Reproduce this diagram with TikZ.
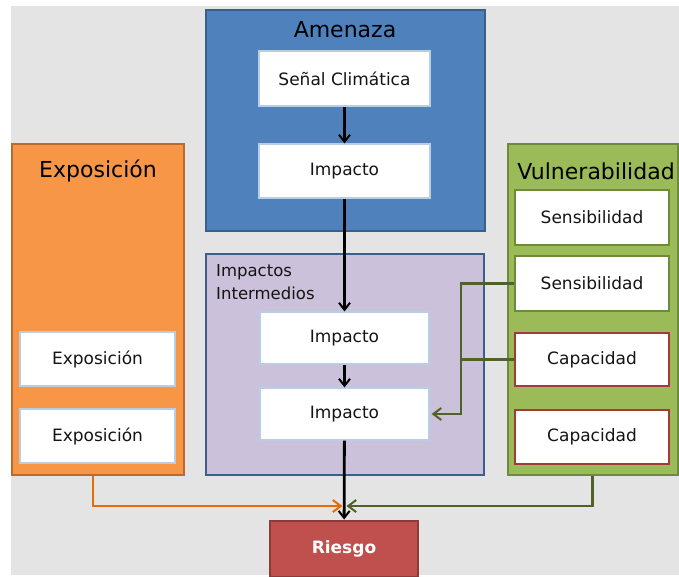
\documentclass[tikz,border=0pt]{standalone}
\usepackage{fontspec}
\setmainfont{DejaVu Sans}
\usetikzlibrary{arrows.meta}

\definecolor{bgGray}{HTML}{E4E4E4}
\definecolor{amBlue}{HTML}{4F81BD}
\definecolor{amBlueDk}{HTML}{3A5F8B}
\definecolor{exOrange}{HTML}{F79646}
\definecolor{exOrangeDk}{HTML}{B96A30}
\definecolor{vuGreen}{HTML}{9BBB59}
\definecolor{vuGreenDk}{HTML}{6E8A3C}
\definecolor{imLilac}{HTML}{CCC1DA}
\definecolor{riRed}{HTML}{C0504D}
\definecolor{riRedDk}{HTML}{8E3A38}
\definecolor{paleEdge}{HTML}{B9CDE5}
\definecolor{lineOrange}{HTML}{E46C0A}
\definecolor{lineGreen}{HTML}{4F6228}
\definecolor{capEdge}{HTML}{A33A37}

\tikzset{
  panel/.style={draw, line width=2pt, inner sep=0pt, anchor=center},
  card/.style={draw=paleEdge, fill=white, line width=1.2pt, inner sep=0pt,
    font=\fontsize{17}{20}\selectfont, text=black!92},
  senscard/.style={card, draw=vuGreenDk, line width=2pt},
  capcard/.style={card, draw=capEdge, line width=2pt},
  paneltitle/.style={font=\fontsize{22}{25}\selectfont, text=black},
  flow/.style={line width=2.8pt, -{Straight Barb[length=7pt,width=11pt,line width=2pt]}},
  feedO/.style={draw=lineOrange, line width=2.4pt, -{Straight Barb[length=8pt,width=12pt,line width=2pt]}},
  feedG/.style={draw=lineGreen, line width=2.4pt, -{Straight Barb[length=8pt,width=12pt,line width=2pt]}},
}

\begin{document}
\begin{tikzpicture}[x=1pt, y=-1pt]
  % page and grey backdrop
  \useasboundingbox (0,0) rectangle (679,577);
  \fill[white] (0,0) rectangle (679,577);
  \fill[bgGray] (11,6) rectangle (679,575);

  % coloured panels
  \node[panel, draw=amBlueDk, fill=amBlue, minimum width=279pt, minimum height=221pt] (amenaza) at (345.5,120.5) {};
  \node[panel, draw=exOrangeDk, fill=exOrange, minimum width=172pt, minimum height=331pt] (expo) at (98,309.5) {};
  \node[panel, draw=vuGreenDk, fill=vuGreen, minimum width=170pt, minimum height=331pt] (vuln) at (592.5,309.5) {};
  \node[panel, draw=amBlueDk, fill=imLilac, minimum width=278pt, minimum height=221pt] (inter) at (345,364.5) {};
  \node[panel, draw=riRedDk, fill=riRed, minimum width=148pt, minimum height=56pt,
        font=\fontsize{17}{20}\selectfont\bfseries, text=white] (riesgo) at (344,548.5) {Riesgo};

  % panel titles
  \node[paneltitle] (tAm) at (345,30) {Amenaza};
  \node[paneltitle] (tEx) at (98,171) {Exposición};
  \node[paneltitle] (tVu) at (596,171) {Vulnerabilidad};
  \node[font=\fontsize{16.5}{23}\selectfont, text=black!92, align=left, anchor=north west, inner sep=0pt] (tIn) at (216,264) {Impactos\\Intermedios};

  % hazard chain
  \node[card, minimum width=171pt, minimum height=55pt] (senal) at (344.5,78.5) {Señal Climática};
  \node[card, minimum width=171pt, minimum height=54pt] (imp1) at (344.5,171) {Impacto};
  \node[card, minimum width=169pt, minimum height=52pt] (imp2) at (344.5,338) {Impacto};
  \node[card, minimum width=169pt, minimum height=52pt] (imp3) at (344.5,414) {Impacto};

  % exposure cards
  \node[card, minimum width=155pt, minimum height=54pt] (ex1) at (97.5,359) {Exposición};
  \node[card, minimum width=155pt, minimum height=54pt] (ex2) at (97.5,436) {Exposición};

  % vulnerability cards
  \node[senscard, minimum width=154pt, minimum height=55pt] (sen1) at (592,217.5) {Sensibilidad};
  \node[senscard, minimum width=154pt, minimum height=55pt] (sen2) at (592,283.5) {Sensibilidad};
  \node[capcard, minimum width=154pt, minimum height=53pt] (cap1) at (592,359.5) {Capacidad};
  \node[capcard, minimum width=154pt, minimum height=54pt] (cap2) at (592,437) {Capacidad};

  % main causal chain
  \draw[flow] (senal) -- (imp1);
  \draw[flow] (imp1) -- (imp2);
  \draw[flow] (imp2) -- (imp3);
  \draw[flow] (imp3) -- (riesgo);

  % sensitivity and capacity feed the second impact
  \coordinate (gj) at (461,283.5);
  \draw[draw=lineGreen, line width=2.4pt] (cap1.west) -- (cap1.west -| gj);
  \draw[feedG] (sen2.west) -- (gj) |- ([xshift=2pt]imp3.east);

  % exposure and vulnerability feed the risk
  \coordinate (meet) at (344.5,506);
  \draw[feedO] ([xshift=-5pt]expo.south) |- ([xshift=-2pt]meet);
  \draw[feedG] (vuln.south) |- ([xshift=2pt]meet);
\end{tikzpicture}
\end{document}
